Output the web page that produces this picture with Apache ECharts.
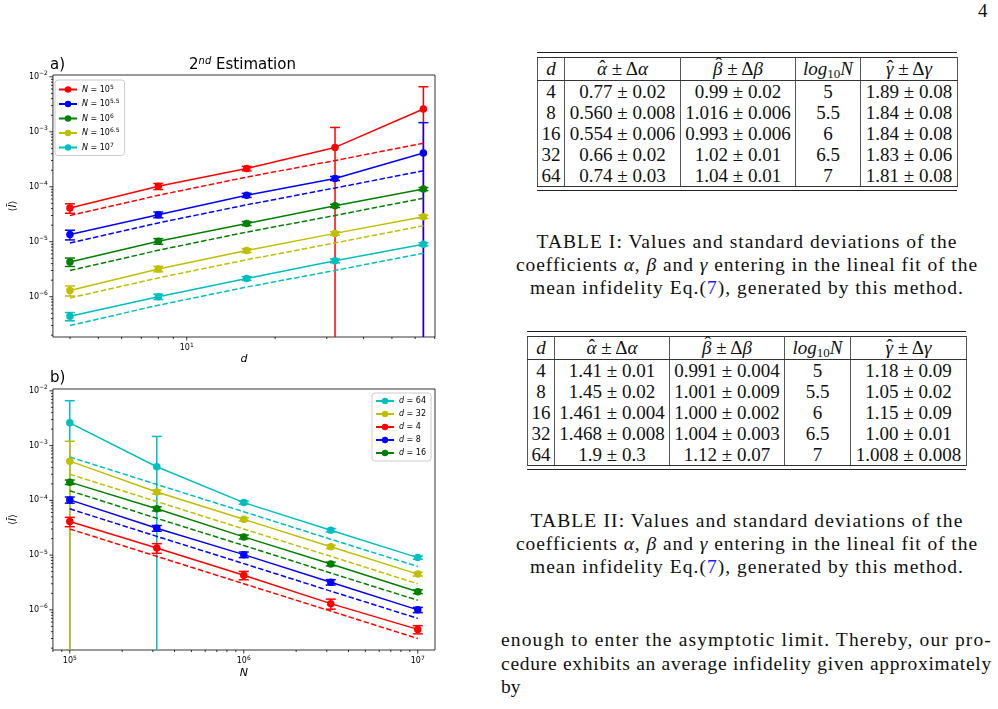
<!DOCTYPE html>
<html>
<head>
<meta charset="utf-8">
<script src="https://cdn.jsdelivr.net/npm/echarts@6/dist/echarts.min.js"></script>
<style>
  body { margin: 0; width: 998px; height: 709px; overflow: hidden; position: relative; background: #fff;
         font-family: 'Liberation Serif', 'DejaVu Serif', serif; color: #111; }
  #chart { position: absolute; left: 0; top: 0; width: 480px; height: 709px; }
  .rule { position: absolute; height: 0; border-top: 1.3px solid #222; }
  .tbl { position: absolute; border-collapse: collapse; table-layout: fixed; font-size: 19px; }
  .tbl td { padding: 0; text-align: center; white-space: nowrap; height: 21px; line-height: 21px;
            border-left: 1.5px solid #555; border-right: 1.5px solid #555; }
  .tbl tr.hd td { height: 22px; line-height: 22px; border-top: 1.3px solid #333; border-bottom: 1.3px solid #333; }
  .tbl tr:last-child td { border-bottom: 1.3px solid #333; }
  .tbl sub { font-size: 13px; line-height: 0; vertical-align: -0.25em; }
  .hat { position: relative; display: inline-block; line-height: 22px; }
  .hat b { position: absolute; left: 1px; right: 0; top: -2px; text-align: center; font-style: normal; font-weight: normal; line-height: 22px; }
  .hat.tall b { top: -5px; left: 2px; }
  .cap { position: absolute; left: 502px; width: 490px; text-align: center; font-size: 19.5px; line-height: 23px; }
  .par { position: absolute; left: 501px; width: 491px; font-size: 19.5px; line-height: 23.5px; }
  .fit { display: inline-block; white-space: nowrap; }
  .ref { color: #1a1aff; }
</style>
</head>
<body>
<div id="chart"></div>

<div style="position:absolute;left:978px;top:0px;font-size:19px;">4</div>

<div class="rule" style="left:537px;top:52px;width:420px;"></div>
<table class="tbl" id="t1" style="left:537px;top:57px;width:420px;"></table>
<div class="rule" style="left:537px;top:190px;width:420px;"></div>

<div class="cap" style="top:230px;">
  <div><span class="fit" data-w="421">TABLE I: Values and standard deviations of the</span></div>
  <div><span class="fit" data-w="462">coefficients <i>α</i>, <i>β</i> and <i>γ</i> entering in the lineal fit of the</span></div>
  <div><span class="fit" data-w="434">mean infidelity Eq.(<span class="ref">7</span>), generated by this method.</span></div>
</div>

<div class="rule" style="left:527px;top:331px;width:439px;"></div>
<table class="tbl" id="t2" style="left:527px;top:336px;width:439px;"></table>
<div class="rule" style="left:527px;top:469px;width:439px;"></div>

<div class="cap" style="top:509px;">
  <div><span class="fit" data-w="433">TABLE II: Values and standard deviations of the</span></div>
  <div><span class="fit" data-w="462">coefficients <i>α</i>, <i>β</i> and <i>γ</i> entering in the lineal fit of the</span></div>
  <div><span class="fit" data-w="434">mean infidelity Eq.(<span class="ref">7</span>), generated by this method.</span></div>
</div>

<div class="par" style="top:628px;">
  <div><span class="fit" data-w="491">enough to enter the asymptotic limit. Thereby, our pro-</span></div>
  <div><span class="fit" data-w="491">cedure exhibits an average infidelity given approximately</span></div>
  <div>by</div>
</div>

<script>
// ---- chart data ----
var dVals = [4, 8, 16, 32, 64];
var nExp = ['5', '5.5', '6', '6.5', '7'];
var nVals = [1e5, 316228, 1e6, 3162278, 1e7];

// mean infidelity, rows = d, columns = N
var infid = [
  [4.1e-5, 1.35e-5, 4.3e-6, 1.3e-6, 4.4e-7],
  [1.02e-4, 3.1e-5, 1.02e-5, 3.2e-6, 1.0e-6],
  [2.15e-4, 7.0e-5, 2.15e-5, 6.9e-6, 2.15e-6],
  [5.2e-4, 1.42e-4, 4.5e-5, 1.42e-5, 4.5e-6],
  [2.6e-3, 4.1e-4, 9.1e-5, 2.85e-5, 9.0e-6]
];
var infidErr = [
  [0.8e-5, 2.7e-6, 0.75e-6, 0.27e-6, 0.75e-7],
  [1.3e-5, 3.7e-6, 1.2e-6, 0.36e-6, 1.1e-7],
  [2.0e-5, 6.0e-6, 1.8e-6, 0.55e-6, 0.17e-6],
  [6.8e-4, 1.2e-5, 3.0e-6, 1.0e-6, 0.35e-6],
  [4.0e-3, 1.06e-3, 6.0e-6, 2.0e-6, 0.6e-6]
];
// dashed fit lines
var fitVals = [
  [3.0e-5, 9.5e-6, 3.0e-6, 9.5e-7, 3.0e-7],
  [7.0e-5, 2.2e-5, 7.0e-6, 2.2e-6, 7.0e-7],
  [1.5e-4, 4.7e-5, 1.5e-5, 4.7e-6, 1.5e-6],
  [3.0e-4, 9.5e-5, 3.0e-5, 9.5e-6, 3.0e-6],
  [6.2e-4, 1.95e-4, 6.2e-5, 1.95e-5, 6.2e-6]
];
var colors = ['#ff0000', '#0000ff', '#008000', '#bfbf00', '#00bfbf'];
var orderB = [4, 3, 0, 1, 2];   // plotting / legend order of panel b

// tick positions
var xMajorA = [10];
var xMinorA = [4, 5, 6, 7, 8, 9, 20, 30, 40, 50, 60, 70];
var xMajorB = [1e5, 1e6, 1e7];
var xMinorB = [8e4, 9e4, 2e5, 3e5, 4e5, 5e5, 6e5, 7e5, 8e5, 9e5, 2e6, 3e6, 4e6, 5e6, 6e6, 7e6, 8e6, 9e6];
var yMajor = [1e-6, 1e-5, 1e-4, 1e-3, 1e-2];
var yMinorMult = [2, 3, 4, 5, 6, 7, 8, 9];
var yMinorDec = [1e-7, 1e-6, 1e-5, 1e-4, 1e-3];

// table contents
var tabHead = ['<i>d</i>', '<i class="hat">α<b>ˆ</b></i> ± Δ<i>α</i>', '<i class="hat tall">β<b>ˆ</b></i> ± Δ<i>β</i>',
               '<i>log</i><sub>10</sub><i>N</i>', '<i class="hat">γ<b>ˆ</b></i> ± Δ<i>γ</i>'];
var tab1 = [
  ['4', '0.77 ± 0.02', '0.99 ± 0.02', '5', '1.89 ± 0.08'],
  ['8', '0.560 ± 0.008', '1.016 ± 0.006', '5.5', '1.84 ± 0.08'],
  ['16', '0.554 ± 0.006', '0.993 ± 0.006', '6', '1.84 ± 0.08'],
  ['32', '0.66 ± 0.02', '1.02 ± 0.01', '6.5', '1.83 ± 0.06'],
  ['64', '0.74 ± 0.03', '1.04 ± 0.01', '7', '1.81 ± 0.08']
];
var tab2 = [
  ['4', '1.41 ± 0.01', '0.991 ± 0.004', '5', '1.18 ± 0.09'],
  ['8', '1.45 ± 0.02', '1.001 ± 0.009', '5.5', '1.05 ± 0.02'],
  ['16', '1.461 ± 0.004', '1.000 ± 0.002', '6', '1.15 ± 0.09'],
  ['32', '1.468 ± 0.008', '1.004 ± 0.003', '6.5', '1.00 ± 0.01'],
  ['64', '1.9 ± 0.3', '1.12 ± 0.07', '7', '1.008 ± 0.008']
];

function fillTable(id, rows, widths) {
  var html = '<colgroup>' + widths.map(function (w) { return '<col style="width:' + w + 'px">'; }).join('') + '</colgroup>';
  html += '<tr class="hd">' + tabHead.map(function (h) { return '<td>' + h + '</td>'; }).join('') + '</tr>';
  rows.forEach(function (r) {
    html += '<tr>' + r.map(function (c) { return '<td>' + c + '</td>'; }).join('') + '</tr>';
  });
  document.getElementById(id).innerHTML = html;
}
fillTable('t1', tab1, [27, 116, 115, 65, 97]);
fillTable('t2', tab2, [27, 115, 115, 66, 116]);

// stretch text lines to the widths of the typeset page
document.querySelectorAll('.fit').forEach(function (el) {
  var target = +el.getAttribute('data-w');
  var w = el.getBoundingClientRect().width;
  el.style.letterSpacing = ((target - w) / el.textContent.length) + 'px';
});

// ---- chart ----
var yMin = 1.85e-7, yMax = 1.08e-2;
var font = 'DejaVu Sans';

function powLabel(v) {
  var e = Math.log10(v), r = Math.round(e);
  if (Math.abs(e - r) > 1e-6) return '';
  return '10{s|' + String(r).replace('-', '\u2212') + '}';
}

var labelStyle = {
  fontFamily: font, fontSize: 8, color: '#000', margin: 5, formatter: powLabel,
  rich: { s: { fontFamily: font, fontSize: 6, padding: [0, 0, 6, 0], color: '#000' } }
};

function errorBarItem(params, api) {
  var x = api.value(0), y = api.value(1), e = api.value(2);
  var clipped = y - e <= yMin;
  var top = api.coord([x, y + e]);
  var bot = api.coord([x, clipped ? yMin : y - e]);
  var st = { stroke: api.visual('color'), lineWidth: 1.5 };
  var kids = [
    { type: 'line', shape: { x1: top[0], y1: top[1], x2: bot[0], y2: bot[1] }, style: st },
    { type: 'line', shape: { x1: top[0] - 5, y1: top[1], x2: top[0] + 5, y2: top[1] }, style: st }
  ];
  if (!clipped) {
    kids.push({ type: 'line', shape: { x1: bot[0] - 5, y1: bot[1], x2: bot[0] + 5, y2: bot[1] }, style: st });
  }
  return { type: 'group', children: kids };
}

function tickSeries(idx, xMaj, xMin, xRange, anchor) {
  var yMinor = [];
  yMinorDec.forEach(function (d) { yMinorMult.forEach(function (m) { yMinor.push(m * d); }); });
  return {
    type: 'custom', xAxisIndex: idx, yAxisIndex: idx, silent: true, clip: false, z: 10,
    data: [anchor],
    renderItem: function (params, api) {
      var cs = params.coordSys, kids = [];
      var st = { stroke: '#000', lineWidth: 0.8 };
      function xt(v, len) {
        if (v < xRange[0] || v > xRange[1]) return;
        var px = api.coord([v, anchor[1]])[0];
        kids.push({ type: 'line', shape: { x1: px, y1: cs.y + cs.height, x2: px, y2: cs.y + cs.height + len }, style: st });
      }
      function yt(v, len) {
        if (v < yMin || v > yMax) return;
        var py = api.coord([anchor[0], v])[1];
        kids.push({ type: 'line', shape: { x1: cs.x, y1: py, x2: cs.x - len, y2: py }, style: st });
      }
      xMaj.forEach(function (v) { xt(v, 3.5); });
      xMin.forEach(function (v) { xt(v, 2); });
      yMajor.forEach(function (v) { yt(v, 3.5); });
      yMinor.forEach(function (v) { yt(v, 2); });
      return { type: 'group', children: kids };
    }
  };
}

var legendA = nExp.map(function (e) { return 'N = 10^' + e; });
var legendB = dVals.map(function (d) { return 'd = ' + d; });

var series = [];
// panel a: one curve per N
nExp.forEach(function (e, j) {
  var c = colors[j];
  series.push({
    type: 'custom', name: 'errA' + j, xAxisIndex: 0, yAxisIndex: 0, clip: true, silent: true,
    itemStyle: { color: c }, renderItem: errorBarItem,
    data: dVals.map(function (d, i) { return [d, infid[i][j], infidErr[i][j]]; })
  });
  series.push({
    type: 'line', name: legendA[j], xAxisIndex: 0, yAxisIndex: 0, color: c,
    symbol: 'circle', symbolSize: 7.5, lineStyle: { width: 1.5 }, silent: true,
    data: dVals.map(function (d, i) { return [d, infid[i][j]]; })
  });
  series.push({
    type: 'line', name: 'fitA' + j, xAxisIndex: 0, yAxisIndex: 0, color: c,
    symbol: 'none', lineStyle: { width: 1.5, type: [5.5, 2.4] }, silent: true,
    data: dVals.map(function (d, i) { return [d, fitVals[i][j]]; })
  });
});
// panel b: one curve per d
orderB.forEach(function (i) {
  var c = colors[i];
  series.push({
    type: 'custom', name: 'errB' + i, xAxisIndex: 1, yAxisIndex: 1, clip: true, silent: true,
    itemStyle: { color: c }, renderItem: errorBarItem,
    data: nVals.map(function (n, j) { return [n, infid[i][j], infidErr[i][j]]; })
  });
  series.push({
    type: 'line', name: legendB[i], xAxisIndex: 1, yAxisIndex: 1, color: c,
    symbol: 'circle', symbolSize: 7.5, lineStyle: { width: 1.5 }, silent: true,
    data: nVals.map(function (n, j) { return [n, infid[i][j]]; })
  });
  series.push({
    type: 'line', name: 'fitB' + i, xAxisIndex: 1, yAxisIndex: 1, color: c,
    symbol: 'none', lineStyle: { width: 1.5, type: [5.5, 2.4] }, silent: true,
    data: nVals.map(function (n, j) { return [n, fitVals[i][j]]; })
  });
});
series.push(tickSeries(0, xMajorA, xMinorA, [3.5, 70.1], [10, 1e-4]));
series.push(tickSeries(1, xMajorB, xMinorB, [8.0e4, 1.256e7], [1e6, 1e-4]));

var legendBase = {
  orient: 'vertical', itemWidth: 18, itemHeight: 8, itemGap: 5,
  backgroundColor: 'rgba(255,255,255,0.8)', borderColor: '#cccccc', borderWidth: 1, borderRadius: 3,
  padding: [4, 5, 4, 3], selectedMode: false,
  textStyle: { fontFamily: font, fontSize: 8, color: '#000',
    rich: { i: { fontFamily: font, fontSize: 8, fontStyle: 'italic', color: '#000' },
            s: { fontFamily: font, fontSize: 6, padding: [0, 0, 5, 0], color: '#000' } } }
};

var yAxisBase = {
  type: 'log', logBase: 10, min: yMin, max: yMax,
  axisLine: { show: false }, axisTick: { show: false }, splitLine: { show: false },
  axisLabel: labelStyle,
  name: '⟨{i|Ī}⟩', nameLocation: 'middle', nameGap: 30,
  nameTextStyle: { fontFamily: font, fontSize: 10, color: '#000',
    rich: { i: { fontFamily: font, fontSize: 10, fontStyle: 'italic', color: '#000' } } }
};

var myChart = echarts.init(document.getElementById('chart'));
var option = {
  animation: false,
  grid: [
    { left: 50, top: 75, width: 385, height: 262, show: true, borderColor: '#000', borderWidth: 0.8 },
    { left: 50, top: 389, width: 385, height: 261, show: true, borderColor: '#000', borderWidth: 0.8 }
  ],
  xAxis: [
    { type: 'log', logBase: 10, gridIndex: 0, min: 3.5, max: 70.1,
      axisLine: { show: false }, axisTick: { show: false }, splitLine: { show: false },
      axisLabel: labelStyle,
      name: 'd', nameLocation: 'middle', nameGap: 17,
      nameTextStyle: { fontFamily: font, fontSize: 11, fontStyle: 'italic', color: '#000' } },
    { type: 'log', logBase: 10, gridIndex: 1, min: 8.0e4, max: 1.256e7,
      axisLine: { show: false }, axisTick: { show: false }, splitLine: { show: false },
      axisLabel: labelStyle,
      name: 'N', nameLocation: 'middle', nameGap: 18,
      nameTextStyle: { fontFamily: font, fontSize: 11, fontStyle: 'italic', color: '#000' } }
  ],
  yAxis: [
    Object.assign({ gridIndex: 0 }, yAxisBase),
    Object.assign({ gridIndex: 1 }, yAxisBase)
  ],
  legend: [
    Object.assign({ data: legendA, left: 55, top: 80,
      formatter: function (n) { return '{i|N} = 10{s|' + n.split('^')[1] + '}'; } }, legendBase),
    Object.assign({ data: orderB.map(function (i) { return legendB[i]; }), left: 372, top: 393,
      formatter: function (n) { return '{i|d} = ' + n.split(' = ')[1]; } }, legendBase)
  ],
  graphic: [
    { type: 'text', x: 242.5, y: 65, style: { text: '2{s|nd} Estimation', align: 'center', verticalAlign: 'middle',
      fontFamily: font, fontSize: 15, fill: '#000',
      rich: { s: { fontFamily: font, fontSize: 10, fontStyle: 'italic', padding: [0, 0, 8, 0], fill: '#000' } } } },
    { type: 'text', x: 50, y: 65, style: { text: 'a)', verticalAlign: 'middle', fontFamily: font, fontSize: 15, fill: '#000' } },
    { type: 'text', x: 50, y: 378, style: { text: 'b)', verticalAlign: 'middle', fontFamily: font, fontSize: 15, fill: '#000' } }
  ],
  series: series
};
myChart.setOption(option);
</script>
</body>
</html>
